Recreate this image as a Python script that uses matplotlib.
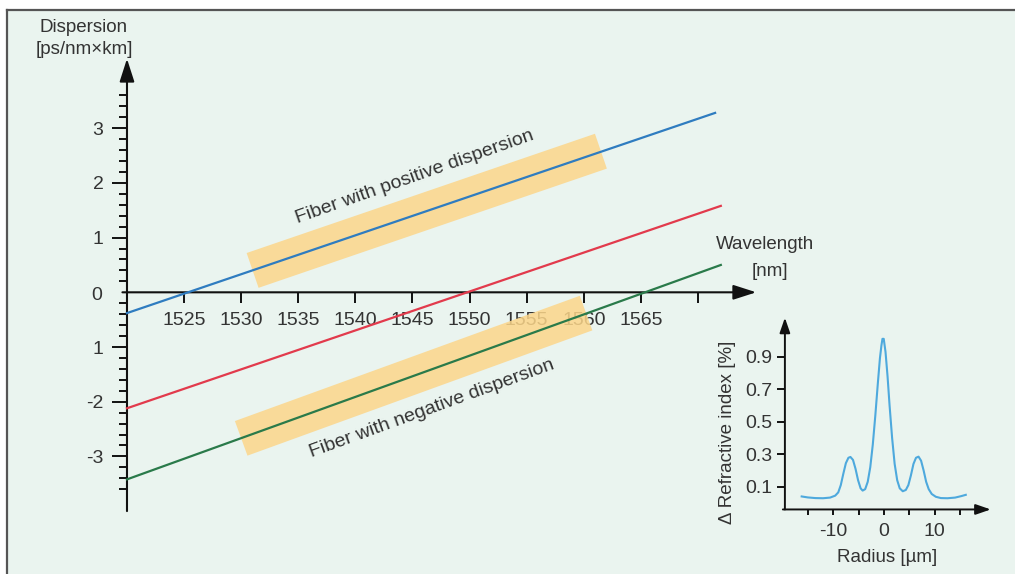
import numpy as np
import matplotlib
matplotlib.use('Agg')
import matplotlib.pyplot as plt
from matplotlib.patches import Rectangle
from matplotlib.lines import Line2D

plt.rcParams['font.family'] = ['Liberation Sans', 'DejaVu Sans']

# dispersion lines (wavelength nm, dispersion ps/nm*km)
blue_wl = [1520, 1571.5]
blue_disp = [-0.38, 3.28]
red_wl = [1520, 1572]
red_disp = [-2.12, 1.58]
green_wl = [1520, 1572]
green_disp = [-3.42, 0.50]

# highlighted bands
band_pos_wl = [1531.0, 1561.5]
band_pos_disp = [0.40, 2.58]
band_neg_wl = [1530.0, 1560.2]
band_neg_disp = [-2.67, -0.38]

x_ticks = [1525, 1530, 1535, 1540, 1545, 1550, 1555, 1560, 1565, 1570]
x_labels = ['1525', '1530', '1535', '1540', '1545', '1550', '1555', '1560', '1565', '']
y_ticks = [-3, -2, -1, 1, 2, 3]
y_labels = ['-3', '-2', '1', '1', '2', '3']

# refractive index profile (inset)
radius = [-16.2, -15.0, -13.5, -12.0, -10.6, -9.6, -9.0, -8.5, -8.0, -7.5, -7.0, -6.6,
          -6.1, -5.6, -5.1, -4.6, -4.2, -3.7, -3.2, -2.7, -2.2, -1.7, -1.2, -0.8,
          -0.5, -0.3, -0.05, 0.3, 0.7, 1.1, 1.6, 2.1, 2.6, 3.1, 3.7, 4.3, 4.8,
          5.3, 5.8, 6.3, 6.8, 7.3, 7.8, 8.3, 8.8, 9.4, 10.2, 11.2, 12.5, 14.0, 15.2, 16.1]
delta_n = [0.040, 0.034, 0.030, 0.029, 0.033, 0.045, 0.065, 0.11, 0.18, 0.245, 0.278, 0.283,
           0.265, 0.21, 0.14, 0.09, 0.076, 0.085, 0.13, 0.22, 0.36, 0.54, 0.74, 0.89,
           0.97, 1.01, 1.01, 0.93, 0.78, 0.60, 0.40, 0.24, 0.14, 0.09, 0.072, 0.08, 0.11,
           0.17, 0.24, 0.278, 0.285, 0.26, 0.20, 0.13, 0.085, 0.055, 0.038, 0.030, 0.029, 0.033, 0.042, 0.050]
r_major = [-10, 0, 10]
r_minor = [-15, -5, 5, 15]
n_ticks = [0.1, 0.3, 0.5, 0.7, 0.9]

W, H = 1015, 574
def fx(px):
    return px / W
def fy(py):
    return 1 - py / H

txt = '#333333'
fig = plt.figure(figsize=(W / 100, H / 100), dpi=100)
fig.patch.set_facecolor('white')
fig.patches.append(Rectangle((fx(7), 0), 1 - fx(7), fy(10), transform=fig.transFigure,
                             facecolor='#eaf4ef', edgecolor='none', zorder=-10))
fig.lines.append(Line2D([fx(7), fx(7)], [0, fy(10)], transform=fig.transFigure, color='#555555', lw=1.6, zorder=-5))
fig.lines.append(Line2D([fx(7), 1], [fy(10), fy(10)], transform=fig.transFigure, color='#555555', lw=1.6, zorder=-5))

# main chart
ax = fig.add_axes([0, 0, 1, 1])
ax.patch.set_visible(False)
ax.set_xlim(1508.88, 1597.76)
ax.set_ylim(-5.150, 5.344)
ax.spines['left'].set_position(('data', 1520))
ax.spines['bottom'].set_position(('data', 0))
for s in ax.spines.values():
    s.set_visible(False)

arrow = dict(arrowstyle='-|>,head_length=1.4,head_width=0.45', lw=1.5, color='#111111',
             mutation_scale=10, shrinkA=0, shrinkB=0)
ax.annotate('', xy=(1575.1, 0), xytext=(1519.6, 0), arrowprops=arrow)
ax.annotate('', xy=(1520, 4.27), xytext=(1520, -4.0), arrowprops=arrow)

ax.set_xticks(x_ticks)
ax.set_xticklabels(x_labels)
ax.set_yticks(y_ticks)
ax.set_yticklabels(y_labels)
ax.set_yticks([v for v in np.round(np.arange(-3.6, 3.61, 0.2), 1) if abs(v - round(v)) > 0.01], minor=True)
ax.tick_params(axis='x', direction='out', length=8, width=1.3, labelsize=14, labelcolor=txt, pad=6)
ax.tick_params(axis='y', which='major', direction='out', length=11, width=1.3, labelsize=14, labelcolor=txt, pad=6)
ax.tick_params(axis='y', which='minor', direction='out', length=6, width=1.3)

ax.plot(band_pos_wl, band_pos_disp, color='#fcd68a', lw=26.5, solid_capstyle='butt', zorder=3, alpha=0.85)
ax.plot(band_neg_wl, band_neg_disp, color='#fcd68a', lw=26.5, solid_capstyle='butt', zorder=3, alpha=0.85)
ax.plot(blue_wl, blue_disp, color='#2f7cc0', lw=1.6, zorder=4)
ax.plot(red_wl, red_disp, color='#e23a4c', lw=1.6, zorder=4)
ax.plot(green_wl, green_disp, color='#2a7a4a', lw=1.6, zorder=4)

fig.text(fx(97), fy(295), '0', ha='center', va='center', fontsize=14, color=txt)
fig.text(fx(84), fy(27), 'Dispersion', ha='center', va='center', fontsize=13.5, color=txt)
fig.text(fx(84), fy(50), '[ps/nm×km]', ha='center', va='center', fontsize=13.5, color=txt)
fig.text(fx(765), fy(245), 'Wavelength', ha='center', va='center', fontsize=13.5, color=txt)
fig.text(fx(770), fy(272), '[nm]', ha='center', va='center', fontsize=13.5, color=txt)
fig.text(fx(415), fy(177), 'Fiber with positive dispersion', ha='center', va='center',
         fontsize=14, color=txt, rotation=19.5, rotation_mode='anchor')
fig.text(fx(432), fy(409), 'Fiber with negative dispersion', ha='center', va='center',
         fontsize=14, color=txt, rotation=20, rotation_mode='anchor')

# inset: refractive index profile
ins = fig.add_axes([fx(760), fy(540), 250 / W, 240 / H])
ins.patch.set_visible(False)
ins.set_xlim(-24.4, 24.8)
ins.set_ylim(-0.228, 1.249)
ins.spines['left'].set_position(('data', -19.5))
ins.spines['bottom'].set_position(('data', -0.04))
for s in ins.spines.values():
    s.set_visible(False)
arrow2 = dict(arrowstyle='-|>,head_length=1.3,head_width=0.45', lw=1.4, color='#111111',
              mutation_scale=7, shrinkA=0, shrinkB=0)
ins.annotate('', xy=(21.0, -0.04), xytext=(-19.9, -0.04), arrowprops=arrow2)
ins.annotate('', xy=(-19.5, 1.14), xytext=(-19.5, -0.04), arrowprops=arrow2)
ins.set_xticks(r_major)
ins.set_xticklabels(['-10', '0', '10'])
ins.set_xticks(r_minor, minor=True)
ins.set_yticks(n_ticks)
ins.set_yticklabels(['0.1', '0.3', '0.5', '0.7', '0.9'])
ins.tick_params(axis='x', which='both', direction='out', length=4, width=1.3, labelsize=14, labelcolor=txt, pad=6)
ins.tick_params(axis='y', direction='out', length=6, width=1.3, labelsize=14, labelcolor=txt, pad=3)
ins.plot(radius, delta_n, color='#4ea9dd', lw=1.5, solid_joinstyle='round')

fig.text(fx(727), fy(432), 'Δ Refractive index [%]', ha='center', va='center', rotation=90,
         fontsize=13.5, color=txt)
fig.text(fx(887), fy(558), 'Radius [µm]', ha='center', va='center', fontsize=13.5, color=txt)

fig.savefig('out.png', dpi=100, facecolor=fig.get_facecolor())
